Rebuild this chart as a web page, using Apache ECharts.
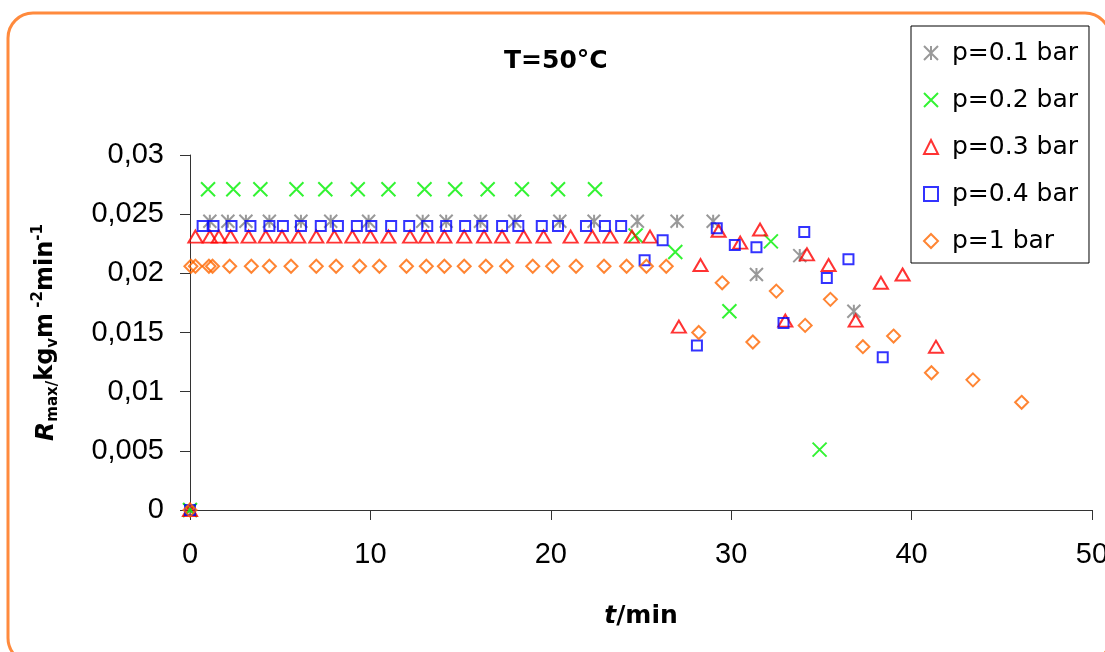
<!DOCTYPE html>
<html>
<head>
<meta charset="utf-8">
<script src="https://cdn.jsdelivr.net/npm/echarts@6/dist/echarts.min.js"></script>
<style>
html,body{margin:0;padding:0;background:#fff;}
#chart{width:1105px;height:652px;}
</style>
</head>
<body>
<div id="chart"></div>
<script>
// ---- data ----
const seriesNames = ['p=0.1 bar', 'p=0.2 bar', 'p=0.3 bar', 'p=0.4 bar', 'p=1 bar'];

const t01 = [0, 1.1, 2.1, 3.1, 4.4, 6.15, 7.8, 9.9, 12.9, 14.2, 16.1, 18.0, 20.5, 22.4, 24.8, 27.0, 29.0, 31.4, 33.8, 36.8];
const r01 = [0, 0.0244, 0.0244, 0.0244, 0.0244, 0.0244, 0.0244, 0.0244, 0.0244, 0.0244, 0.0244, 0.0244, 0.0244, 0.0244, 0.0244, 0.0244, 0.0244, 0.0199, 0.0215, 0.0168];

const t02 = [0, 1.0, 2.4, 3.9, 5.9, 7.5, 9.3, 11.0, 13.0, 14.7, 16.5, 18.4, 20.4, 22.45, 24.7, 26.9, 29.9, 32.2, 34.9];
const r02 = [0, 0.0271, 0.0271, 0.0271, 0.0271, 0.0271, 0.0271, 0.0271, 0.0271, 0.0271, 0.0271, 0.0271, 0.0271, 0.0271, 0.0232, 0.0218, 0.0168, 0.0227, 0.0051];

const t03 = [0, 0.3, 1.1, 1.6, 2.25, 3.25, 4.2, 5.1, 6.0, 7.0, 8.0, 9.0, 10.0, 11.0, 12.2, 13.1, 14.1, 15.2, 16.3, 17.3, 18.5, 19.6, 21.1, 22.3, 23.3, 24.5, 25.5, 27.1, 28.3, 29.3, 30.5, 31.6, 33.0, 34.2, 35.4, 36.9, 38.3, 39.5, 41.35];
const r03 = [0, 0.0231, 0.0231, 0.0231, 0.0231, 0.0231, 0.0231, 0.0231, 0.0231, 0.0231, 0.0231, 0.0231, 0.0231, 0.0231, 0.0231, 0.0231, 0.0231, 0.0231, 0.0231, 0.0231, 0.0231, 0.0231, 0.0231, 0.0231, 0.0231, 0.0231, 0.0231, 0.0155, 0.0207, 0.0236, 0.0226, 0.0237, 0.0160, 0.0216, 0.0207, 0.0160, 0.0192, 0.0199, 0.0138];

const t04 = [0, 0.7, 1.3, 2.3, 3.35, 4.4, 5.15, 6.15, 7.25, 8.2, 9.25, 10.05, 11.15, 12.15, 13.15, 14.2, 15.25, 16.2, 17.3, 18.2, 19.5, 20.4, 21.95, 23.0, 23.9, 25.2, 26.2, 28.1, 29.2, 30.2, 31.4, 32.9, 34.05, 35.3, 36.5, 38.4];
const r04 = [0, 0.0240, 0.0240, 0.0240, 0.0240, 0.0240, 0.0240, 0.0240, 0.0240, 0.0240, 0.0240, 0.0240, 0.0240, 0.0240, 0.0240, 0.0240, 0.0240, 0.0240, 0.0240, 0.0240, 0.0240, 0.0240, 0.0240, 0.0240, 0.0240, 0.0211, 0.0228, 0.0139, 0.0238, 0.0224, 0.0222, 0.0158, 0.0235, 0.0196, 0.0212, 0.0129];

const t1 = [0, 0.05, 0.3, 1.05, 1.25, 2.2, 3.4, 4.4, 5.6, 7.0, 8.1, 9.4, 10.5, 12.0, 13.1, 14.1, 15.2, 16.4, 17.55, 19.0, 20.1, 21.4, 22.95, 24.2, 25.3, 26.4, 28.2, 29.5, 31.2, 32.5, 34.1, 35.5, 37.3, 39.0, 41.1, 43.4, 46.1];
const r1 = [0, 0.0206, 0.0206, 0.0206, 0.0206, 0.0206, 0.0206, 0.0206, 0.0206, 0.0206, 0.0206, 0.0206, 0.0206, 0.0206, 0.0206, 0.0206, 0.0206, 0.0206, 0.0206, 0.0206, 0.0206, 0.0206, 0.0206, 0.0206, 0.0206, 0.0206, 0.0150, 0.0192, 0.0142, 0.0185, 0.0156, 0.0178, 0.0138, 0.0147, 0.0116, 0.0110, 0.0091];

const xTickLabels = ['0', '10', '20', '30', '40', '50'];
const yTickLabels = ['0', '0,005', '0,01', '0,015', '0,02', '0,025', '0,03'];

// ---- styling ----
const colors = ['#808080', '#00f000', '#ff0000', '#0000ff', '#ff6600'];
const symbols = [
  'path://M0,0L10,10M10,0L0,10M5,0L5,10',
  'path://M0,0L10,10M10,0L0,10',
  'triangle',
  'rect',
  'diamond'
];
const sizes = [[13, 13], [14, 14], [14, 12], [10, 10], [13, 13]];
const tArr = [t01, t02, t03, t04, t1];
const rArr = [r01, r02, r03, r04, r1];

const series = seriesNames.map((name, i) => ({
  name: name,
  type: 'scatter',
  clip: false,
  symbol: symbols[i],
  symbolSize: sizes[i],
  itemStyle: { color: 'rgba(0,0,0,0)', borderColor: colors[i], borderWidth: 2 },
  emphasis: { disabled: true },
  data: tArr[i].map((t, k) => [t, rArr[i][k]])
}));

const chart = echarts.init(document.getElementById('chart'), null, { renderer: 'canvas' });
chart.setOption({
  animation: false,
  backgroundColor: '#fff',
  title: {
    text: 'T=50°C',
    left: 499,
    top: 44,
    textStyle: { fontFamily: 'DejaVu Sans', fontWeight: 'bold', fontSize: 25, color: '#000' }
  },
  legend: {
    orient: 'vertical',
    left: 911,
    top: 26,
    padding: [12, 11, 7, 12],
    itemGap: 17,
    itemWidth: 14,
    itemHeight: 14,
    backgroundColor: '#fff',
    borderColor: '#000',
    borderWidth: 1,
    borderRadius: 0,
    selectedMode: false,
    textStyle: { fontFamily: 'DejaVu Sans', fontSize: 25, color: '#000', lineHeight: 30, padding: [0, 0, 0, 9] },
    data: seriesNames
  },
  grid: { left: 190, right: 13, top: 155, bottom: 142, containLabel: false, outerBoundsMode: 'none' },
  xAxis: {
    type: 'value',
    min: 0, max: 50, interval: 10,
    name: '{it|t}{n|/min}',
    nameLocation: 'middle',
    nameGap: 94,
    nameTextStyle: {
      rich: {
        it: { fontFamily: 'DejaVu Sans', fontWeight: 'bold', fontStyle: 'italic', fontSize: 25, color: '#000' },
        n: { fontFamily: 'DejaVu Sans', fontWeight: 'bold', fontSize: 25, color: '#000' }
      }
    },
    axisLine: { onZero: false, lineStyle: { color: '#333', width: 1 } },
    axisTick: { length: 10, lineStyle: { color: '#333' } },
    splitLine: { show: false },
    axisLabel: {
      margin: 30,
      hideOverlap: false,
      fontFamily: 'Liberation Sans', fontSize: 29, color: '#000',
      formatter: v => xTickLabels[Math.round(v / 10)]
    }
  },
  yAxis: {
    type: 'value',
    min: 0, max: 0.03, interval: 0.005,
    name: '{R|R}{sub|max/}{n|kg}{sub|v}{n|m}{sup| -2}{n|min}{sup|-1}',
    nameLocation: 'middle',
    nameRotate: 90,
    nameGap: 127,
    nameTextStyle: {
      rich: {
        R: { fontFamily: 'DejaVu Sans', fontWeight: 'bold', fontStyle: 'italic', fontSize: 25, color: '#000', lineHeight: 34, verticalAlign: 'middle' },
        n: { fontFamily: 'DejaVu Sans', fontWeight: 'bold', fontSize: 24, color: '#000', lineHeight: 34, verticalAlign: 'middle' },
        sub: { fontFamily: 'DejaVu Sans', fontWeight: 'bold', fontSize: 15, color: '#000', lineHeight: 34, verticalAlign: 'bottom', padding: [0, 0, 2, 0] },
        sup: { fontFamily: 'DejaVu Sans', fontWeight: 'bold', fontSize: 15, color: '#000', lineHeight: 34, verticalAlign: 'top', padding: [2, 0, 0, 0] }
      }
    },
    axisLine: { show: true, lineStyle: { color: '#333', width: 1 } },
    axisTick: { show: true, length: 10, lineStyle: { color: '#333' } },
    splitLine: { show: false },
    axisLabel: {
      margin: 26,
      fontFamily: 'Liberation Sans', fontSize: 29, color: '#000',
      formatter: v => yTickLabels[Math.round(v / 0.005)]
    }
  },
  graphic: [{
    type: 'rect',
    z: -10,
    silent: true,
    shape: { x: 8, y: 13, width: 1102, height: 650, r: 25 },
    style: { fill: 'none', stroke: '#ff8a3d', lineWidth: 3 }
  }],
  series: series
});
</script>
</body>
</html>
